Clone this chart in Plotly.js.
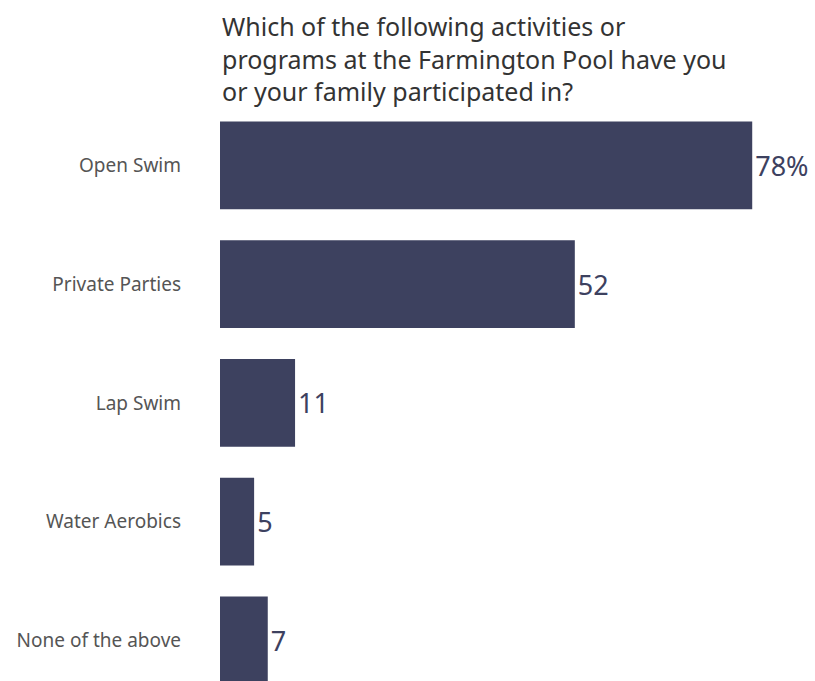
<!DOCTYPE html>
<html>
<head>
<meta charset="utf-8">
<script src="https://cdn.plot.ly/plotly-3.0.1.min.js"></script>
<style>html,body{margin:0;padding:0;background:#fff;}#chart{width:815px;height:681px;}</style>
</head>
<body>
<div id="chart"></div>
<script>
const categories = ["Open Swim", "Private Parties", "Lap Swim", "Water Aerobics", "None of the above"];
const values = [78, 52, 11, 5, 7];
const valueLabels = ["78%", "52", "11", "5", "7"];
const titleText = "Which of the following activities or<br>programs at the Farmington Pool have you<br>or your family participated in?";

const trace = {
  type: "bar",
  orientation: "h",
  y: categories,
  x: values,
  text: valueLabels,
  textposition: "outside",
  cliponaxis: false,
  textfont: {family: "Noto Sans, sans-serif", size: 27, color: "#3d415f"},
  marker: {color: "#3d415f"},
  width: 0.74,
  hoverinfo: "none"
};

const layout = {
  width: 815, height: 681,
  margin: {l: 220, r: 0, t: 106, b: 0},
  paper_bgcolor: "#ffffff",
  plot_bgcolor: "#ffffff",
  showlegend: false,
  annotations: [{
    text: titleText,
    showarrow: false,
    xref: "paper", x: 0, xanchor: "left",
    yref: "paper", y: 1.172, yanchor: "top",
    align: "left",
    font: {family: "Noto Sans, sans-serif", size: 25, color: "#333333"}
  }],
  xaxis: {range: [0, 87.2], visible: false, fixedrange: true},
  yaxis: {
    type: "category",
    range: [4.342, -0.5],
    showgrid: false, zeroline: false, showline: false,
    ticks: "",
    ticklabelstandoff: 38,
    tickfont: {family: "Noto Sans, sans-serif", size: 19, color: "#555555"}
  }
};

Plotly.newPlot("chart", [trace], layout, {staticPlot: true, displayModeBar: false});
</script>
</body>
</html>
